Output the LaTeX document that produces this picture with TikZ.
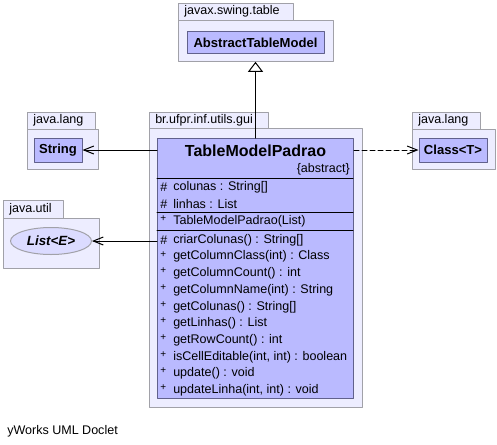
\documentclass[tikz,border=0pt]{standalone}
\usepackage{fontspec}
\setmainfont{Liberation Sans}
\usepackage{tikz}
\usetikzlibrary{arrows.meta}
\usetikzlibrary{shapes.geometric}
\definecolor{eeeeff}{rgb}{0.93,0.93,1.}
\definecolor{bbbbff}{rgb}{0.73,0.73,1.}
\definecolor{ddddff}{rgb}{0.86,0.86,1.}
\definecolor{aaaaaa}{rgb}{0.63,0.63,0.66}
\definecolor{uuuuaa}{rgb}{0.38,0.38,0.55}
\tikzstyle{every node}=[font=\fontsize{9.4}{11}\selectfont]

\begin{document}
\begin{tikzpicture}[line cap=round,line join=round,x=0.75pt,y=-0.75pt,
  pkg/.style={draw=aaaaaa,fill=eeeeff,line width=0.75pt},
  cls/.style={draw=uuuuaa,fill=bbbbff,line width=0.75pt,inner sep=0pt,font=\fontsize{9.8}{11}\selectfont\bfseries},
  lbl/.style={anchor=west,inner sep=0pt},
  mbr/.style={anchor=west,inner sep=0pt},
  pls/.style={anchor=west,inner sep=0pt,font=\fontsize{7.5}{8}\selectfont}]
  \useasboundingbox[fill=white] (0,0) rectangle (497,444);
  % packages
  \draw[pkg] (178,3) rectangle (293,20);
  \draw[pkg] (178,20) rectangle (333,61);
  \node[lbl] (swing) at (184,11.5) {javax.swing.table};
  \draw[pkg] (149,112) rectangle (268,128);
  \draw[pkg] (149,128) rectangle (362,407);
  \node[lbl] (gui) at (155,120) {br.ufpr.inf.utils.gui};
  \draw[pkg] (27,112) rectangle (95,129);
  \draw[pkg] (27,129) rectangle (98,169);
  \node[lbl] (langl) at (33,120.5) {java.lang};
  \draw[pkg] (3,200) rectangle (63,218);
  \draw[pkg] (3,218) rectangle (99,268);
  \node[lbl] (util) at (9,209) {java.util};
  \draw[pkg] (412,112) rectangle (480,129);
  \draw[pkg] (412,129) rectangle (495,169);
  \node[lbl] (langr) at (418,120.5) {java.lang};
  % classes
  \node[cls,minimum width=102.75pt,minimum height=17pt] (atm) at (255.5,42.5) {AbstractTableModel};
  \node[cls,minimum width=36pt,minimum height=18pt] (str) at (58,150) {String};
  \node[cls,minimum width=51pt,minimum height=18pt] (clsT) at (453,150) {Class<T>};
  \node[ellipse,draw=aaaaaa,fill=ddddff,line width=0.75pt,inner sep=0pt,minimum width=60.75pt,minimum height=20.25pt,font=\fontsize{10}{11}\selectfont\bfseries\itshape] (lst) at (51,241) {List<E>};
  \node[cls,anchor=north west,minimum width=147pt,minimum height=195pt] (tmp) at (157,138) {};
  \node[font=\fontsize{12}{14}\selectfont\bfseries] (tmpname) at (255.5,151) {TableModelPadrao};
  \node[anchor=east,inner sep=0pt] (abs) at (350,169) {\{abstract\}};
  \draw[line width=0.75pt] (157,178) -- (353,178);
  \draw[line width=0.75pt] (157,212.5) -- (353,212.5);
  \draw[line width=0.75pt] (157,230) -- (353,230);
  \node[mbr] at (160,187.5) {\#};
  \node[mbr] at (173,187.5) {colunas : String[]};
  \node[mbr] at (160,204) {\#};
  \node[mbr] at (173,204) {linhas : List};
  \node[pls] at (160,219) {+};
  \node[mbr] at (173,221.5) {TableModelPadrao(List)};
  \node[mbr] at (160,240) {\#};
  \node[mbr] at (173,240) {criarColunas() : String[]};
  \foreach \m [count=\i] in {{getColumnClass(int) : Class}, {getColumnCount() : int},
      {getColumnName(int) : String}, {getColunas() : String[]},
      {getLinhas() : List}, {getRowCount() : int},
      {isCellEditable(int, int) : boolean}, {update() : void},
      {updateLinha(int, int) : void}}
  {
    \node[pls] at (160,237.5+16.7*\i) {+};
    \node[mbr] at (173,240+16.7*\i) {\m};
  }
  % connectors
  \draw[line width=0.75pt,-{Triangle[open,length=7.5pt,width=11.25pt]},shorten >=5.6pt] (tmp.north) -- (tmp.north |- atm.south);
  \draw[line width=0.75pt,-{Straight Barb[length=7.5pt,width=6pt]}] (str.east -| tmp.west) -- (str.east);
  \draw[line width=0.75pt,-{Straight Barb[length=7.5pt,width=6pt]}] (lst.east -| tmp.west) -- (lst.east);
  \draw[line width=0.75pt,dash pattern=on 3.75pt off 2.25pt,-{Straight Barb[length=7.5pt,width=6pt]}] (clsT.west -| tmp.east) -- (clsT.west);
  \node[anchor=west,inner sep=0pt] (credit) at (7,431) {yWorks UML Doclet};
\end{tikzpicture}
\end{document}
